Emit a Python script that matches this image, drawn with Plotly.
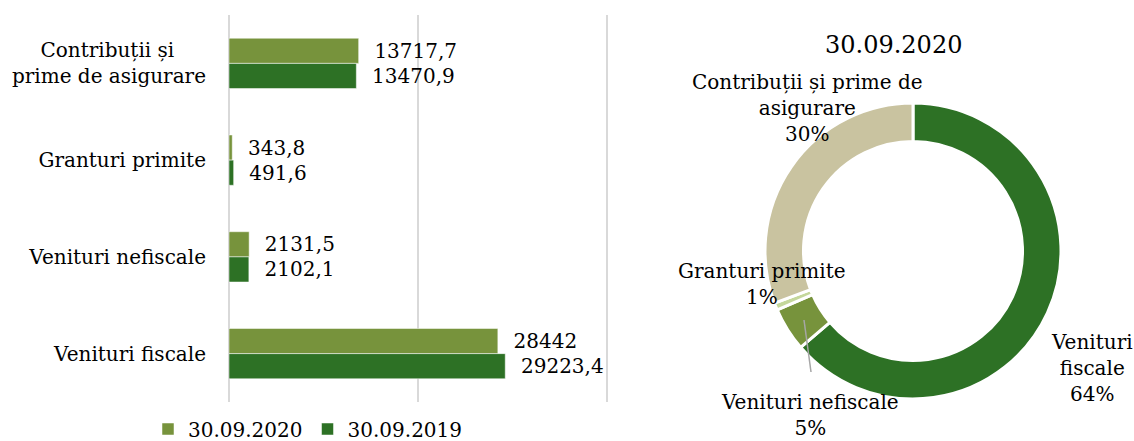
import plotly.graph_objects as go

categories = ["Contribuții și prime de asigurare", "Granturi primite", "Venituri nefiscale", "Venituri fiscale"]
tick_labels = ["Contribuții și\u00a0\u00a0\u00a0\u00a0\u00a0<br>prime de asigurare", "Granturi primite", "Venituri nefiscale", "Venituri fiscale"]
series_2020 = [13717.7, 343.8, 2131.5, 28442]
series_2019 = [13470.9, 491.6, 2102.1, 29223.4]
series_names = ["30.09.2020", "30.09.2019"]

pie_labels = ["Venituri fiscale", "Venituri nefiscale", "Granturi primite", "Contribuții și prime de asigurare"]
pie_values = [28442, 2131.5, 343.8, 13717.7]
pie_pct_labels = ["64%", "5%", "1%", "30%"]
pie_title = "30.09.2020"

FONT = "DejaVu Serif"
C_LIGHT = "#77933c"
C_DARK = "#2d7125"
C_BEIGE = "#c9c3a0"
C_PALE = "#c4d79b"
FS = 20

def fmt(v):
    return "\u00a0\u00a0" + f"{v:g}".replace(".", ",")

fig = go.Figure()
for name, vals, col in [(series_names[0], series_2020, C_LIGHT), (series_names[1], series_2019, C_DARK)]:
    fig.add_trace(go.Bar(
        y=categories, x=vals, name=name, orientation="h",
        marker=dict(color=col, line=dict(color="white", width=0.5)),
        text=[fmt(v) for v in vals], textposition="outside",
        textfont=dict(family=FONT, size=FS, color="black"),
        cliponaxis=False,
        xaxis="x", yaxis="y",
    ))

fig.add_trace(go.Pie(
    labels=pie_labels, values=pie_values, hole=0.74, sort=False,
    direction="clockwise", rotation=0,
    marker=dict(colors=[C_DARK, C_LIGHT, C_PALE, C_BEIGE], line=dict(color="white", width=3)),
    textinfo="none", showlegend=False, hoverinfo="label+percent",
    domain=dict(x=[765/1134, 1061/1134], y=[1-399/441, 1-103/441]),
))

ann_font = dict(family=FONT, size=FS, color="black")
annotations = [
    dict(text=pie_title, x=893/1134, y=1-45/441, font=dict(family=FONT, size=24, color="black")),
    dict(text="Venituri<br>fiscale<br>" + pie_pct_labels[0], x=1092/1134, y=1-368/441, font=ann_font),
    dict(text="Venituri nefiscale<br>" + pie_pct_labels[1], x=810/1134, y=1-415/441, font=ann_font),
    dict(text="Granturi primite<br>" + pie_pct_labels[2], x=762/1134, y=1-284/441, font=ann_font),
    dict(text="Contribuții și prime de<br>asigurare<br>" + pie_pct_labels[3], x=807/1134, y=1-108/441, font=ann_font),
]
for a in annotations:
    a.update(xref="paper", yref="paper", showarrow=False, xanchor="center", yanchor="middle")

fig.update_layout(
    width=1134, height=441,
    margin=dict(l=0, r=0, t=0, b=0, autoexpand=False),
    paper_bgcolor="white", plot_bgcolor="white",
    barmode="group", bargap=0.48, bargroupgap=0,
    font=dict(family=FONT, size=FS, color="black"),
    xaxis=dict(domain=[229/1134, 609/1134], range=[0, 40200], tickvals=[0, 20000, 40000],
               showgrid=True, gridcolor="#d9d9d9", gridwidth=1.5,
               zeroline=True, zerolinecolor="#d9d9d9", zerolinewidth=1.5,
               showticklabels=False, showline=False, fixedrange=True),
    yaxis=dict(domain=[1-402/441, 1-15/441], autorange="reversed",
               categoryorder="array", categoryarray=categories,
               tickmode="array", tickvals=categories, ticktext=tick_labels,
               showgrid=False, showline=False, ticks="", ticklabelstandoff=22,
               tickfont=dict(family=FONT, size=FS, color="black")),
    legend=dict(orientation="h", x=308/1134, xanchor="center", y=1-429/441, yanchor="middle",
                font=dict(family=FONT, size=FS, color="black"), itemwidth=30,
                traceorder="normal"),
    annotations=annotations,
    shapes=[dict(type="line", xref="paper", yref="paper",
                 x0=804/1134, y0=1-320/441, x1=811/1134, y1=1-372/441,
                 line=dict(color="#a6a6a6", width=1.5))],
)

fig.write_html("out.html", config={"displayModeBar": False},
               post_script="document.body.style.margin='0';document.body.style.overflow='hidden';")
